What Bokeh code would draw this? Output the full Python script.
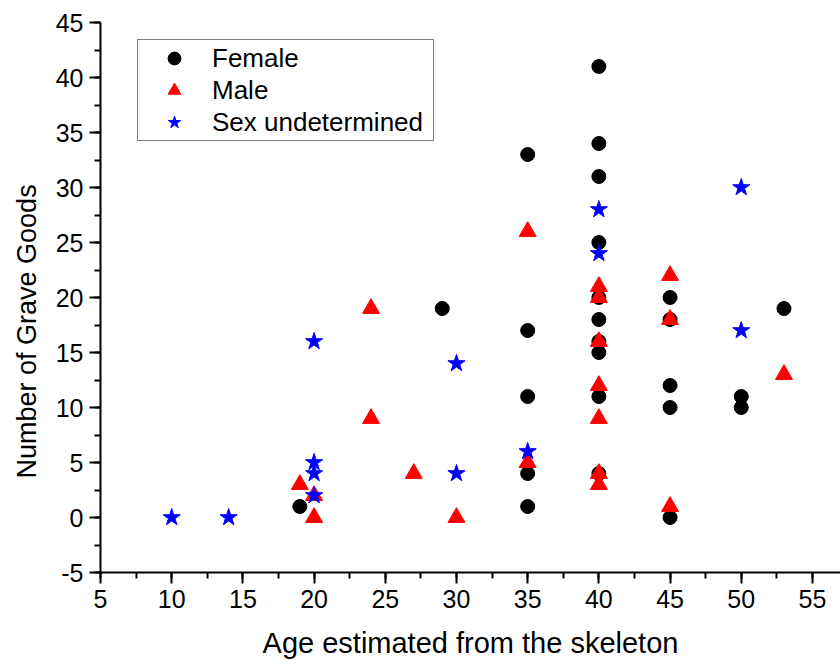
from bokeh.plotting import figure
from bokeh.models import (Range1d, SingleIntervalTicker, Legend, LegendItem, Title)
from bokeh.embed import file_html
from bokeh.resources import INLINE

# ---- data ----
female_age = [19, 29, 35, 35, 35, 35, 35, 40, 40, 40, 40, 40, 40, 40, 40, 40, 40, 45, 45, 45, 45, 45, 50, 50, 53]
female_goods = [1, 19, 33, 17, 11, 4, 1, 41, 34, 31, 25, 20, 18, 16, 15, 11, 4, 20, 18, 12, 10, 0, 11, 10, 19]

male_age = [19, 20, 20, 24, 24, 27, 30, 35, 35, 40, 40, 40, 40, 40, 40, 40, 45, 45, 45, 53]
male_goods = [3, 2, 0, 19, 9, 4, 0, 26, 5, 21, 20, 16, 12, 9, 4, 3, 22, 18, 1, 13]

und_age = [10, 14, 20, 20, 20, 20, 30, 30, 35, 40, 40, 50, 50]
und_goods = [0, 0, 16, 5, 4, 2, 14, 4, 6, 28, 24, 30, 17]

series_names = ["Female", "Male", "Sex undetermined"]
x_title = "Age estimated from the skeleton"
y_title = "Number of Grave Goods"
y_neg_label = {-5: "-5"}

FONT = "Liberation Sans"
W, H = 840, 664

p = figure(width=W, height=H, output_backend="svg", toolbar_location=None,
           x_range=Range1d(5, 56.97), y_range=Range1d(-5, 45),
           min_border_left=100, min_border_right=0, min_border_top=22, min_border_bottom=92)
p.outline_line_color = None
p.grid.grid_line_color = None
p.background_fill_color = "white"
p.border_fill_color = "white"

for ax in (p.xaxis[0], p.yaxis[0]):
    ax.ticker = SingleIntervalTicker(interval=5, num_minor_ticks=2)
    ax.axis_line_width = 2
    ax.axis_line_color = "black"
    ax.major_tick_line_width = 2
    ax.minor_tick_line_width = 2
    ax.major_tick_in = 0
    ax.major_tick_out = 11
    ax.minor_tick_in = 0
    ax.minor_tick_out = 6
    ax.major_label_text_font = FONT
    ax.major_label_text_font_size = "25px"
    ax.major_label_text_color = "black"
    ax.major_label_standoff = 6

p.yaxis.major_label_overrides = y_neg_label

p.xaxis.axis_label = x_title
p.xaxis.axis_label_text_font = FONT
p.xaxis.axis_label_text_font_size = "29px"
p.xaxis.axis_label_text_font_style = "normal"
p.xaxis.axis_label_text_color = "black"
p.xaxis.axis_label_standoff = 16

ytitle = Title(text=y_title, align="left", offset=94, vertical_align="top", standoff=18,
               text_font=FONT, text_font_size="27px", text_font_style="normal",
               text_color="black")
p.add_layout(ytitle, "left")

r_f = p.scatter(female_age, female_goods, marker="circle", size=14,
                fill_color="black", line_color="black")
r_m = p.scatter(male_age, male_goods, marker="triangle", size=17,
                fill_color="red", line_color="red")
r_u = p.scatter(und_age, und_goods, marker="star", size=18,
                fill_color="blue", line_color="blue")

legend = Legend(items=[LegendItem(label=series_names[0], renderers=[r_f]),
                       LegendItem(label=series_names[1], renderers=[r_m]),
                       LegendItem(label=series_names[2], renderers=[r_u])],
                location=(37, 431), margin=0, padding=2, spacing=0,
                glyph_width=68, glyph_height=32, label_standoff=4, label_width=219,
                label_text_font=FONT, label_text_font_size="26px",
                label_text_color="black",
                border_line_color="black", border_line_width=1,
                background_fill_color="white", background_fill_alpha=1.0)
p.add_layout(legend)

open("out.html", "w").write(file_html(p, INLINE))
